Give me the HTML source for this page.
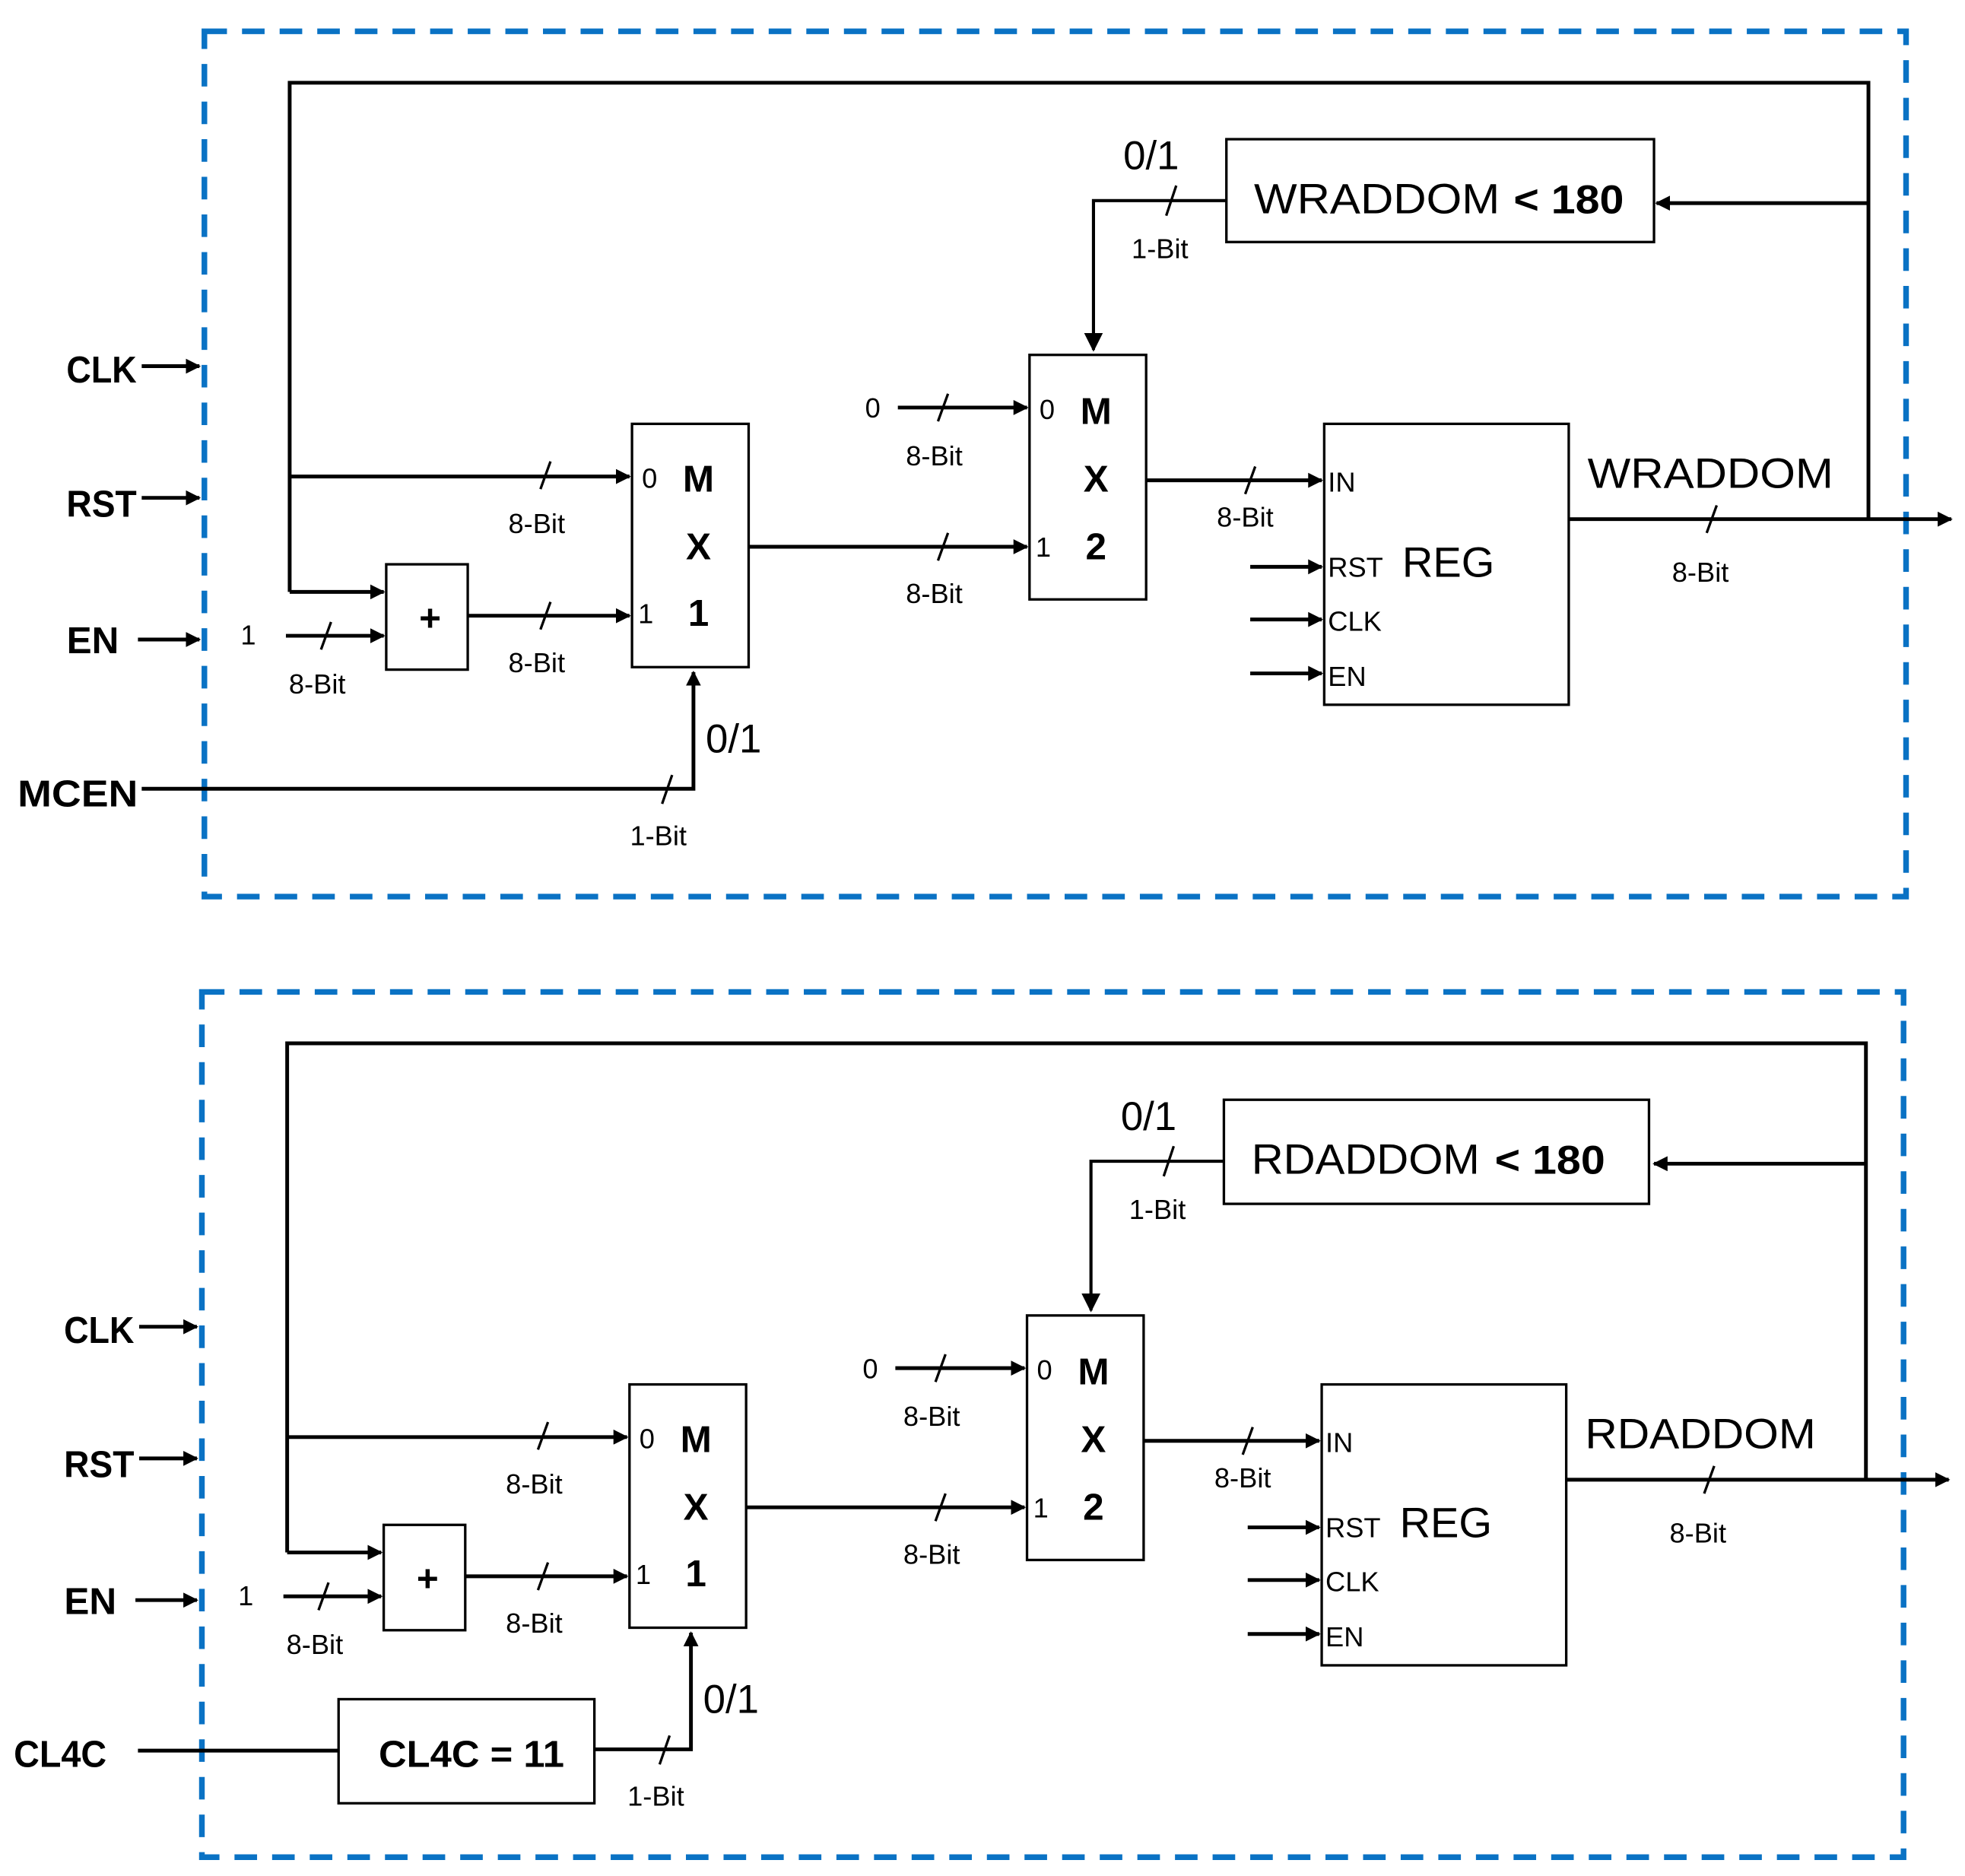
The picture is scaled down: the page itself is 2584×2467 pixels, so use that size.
<!DOCTYPE html>
<html><head><meta charset="utf-8"><style>
html,body{margin:0;padding:0;background:#fff}
svg{display:block}
text{font-family:"Liberation Sans",sans-serif;fill:#000}
.s{font-size:22px}
.b{font-weight:bold}
</style></head><body>
<svg width="2584" height="2467" viewBox="0 0 1567 1496" preserveAspectRatio="none">
<defs>
<marker id="a" viewBox="0 0 10 10" refX="9" refY="5" markerWidth="4" markerHeight="4" orient="auto" markerUnits="strokeWidth"><path d="M0,0L10,5L0,10z" fill="#000"/></marker>
<marker id="a2" viewBox="0 0 10 10" refX="9" refY="5" markerWidth="6" markerHeight="6" orient="auto" markerUnits="strokeWidth"><path d="M0,0L10,5L0,10z" fill="#000"/></marker>
</defs>

<!-- TOP PANEL -->
<g>
<rect x="163" y="25" width="1357" height="690" fill="none" stroke="#0a72c4" stroke-width="4.5" stroke-dasharray="18,12"/>
<g fill="none" stroke="#000" stroke-width="3">
<polyline points="231,472 231,66 1490,66 1490,415"/>
<line x1="231" y1="380" x2="502" y2="380" marker-end="url(#a)"/>
<line x1="231" y1="472" x2="306" y2="472" marker-end="url(#a)"/>
<line x1="228" y1="507" x2="306" y2="507" marker-end="url(#a)"/>
<line x1="373" y1="491" x2="502" y2="491" marker-end="url(#a)"/>
<line x1="597" y1="436" x2="819" y2="436" marker-end="url(#a)"/>
<line x1="716" y1="325" x2="819" y2="325" marker-end="url(#a)"/>
<line x1="914" y1="383" x2="1054" y2="383" marker-end="url(#a)"/>
<line x1="997" y1="452" x2="1054" y2="452" marker-end="url(#a)"/>
<line x1="997" y1="494" x2="1054" y2="494" marker-end="url(#a)"/>
<line x1="997" y1="537" x2="1054" y2="537" marker-end="url(#a)"/>
<line x1="1251" y1="414" x2="1556" y2="414" marker-end="url(#a)"/>
<line x1="1490" y1="162" x2="1321" y2="162" marker-end="url(#a)"/>
<polyline points="978,160 872,160 872,279" stroke-width="2.5" marker-end="url(#a2)"/>
<polyline points="113,629 553,629 553,536" marker-end="url(#a)"/>
<line x1="113" y1="292" x2="159" y2="292" marker-end="url(#a)"/>
<line x1="113" y1="397" x2="159" y2="397" marker-end="url(#a)"/>
<line x1="110" y1="510" x2="159" y2="510" marker-end="url(#a)"/>
</g>
<g stroke="#000" stroke-width="2" fill="#fff">
<rect x="308" y="450" width="65" height="84"/>
<rect x="504" y="338" width="93" height="194"/>
<rect x="821" y="283" width="93" height="195"/>
<rect x="1056" y="338" width="195" height="224"/>
<rect x="978" y="111" width="341" height="82"/>
</g>
<g stroke="#000" stroke-width="2">
<line x1="431" y1="390" x2="439" y2="368"/>
<line x1="256" y1="518" x2="264" y2="496"/>
<line x1="431" y1="502" x2="439" y2="480"/>
<line x1="748" y1="447" x2="756" y2="425"/>
<line x1="748" y1="336" x2="756" y2="314"/>
<line x1="993" y1="394" x2="1001" y2="372"/>
<line x1="1361" y1="425" x2="1369" y2="403"/>
<line x1="930" y1="172" x2="938" y2="148"/>
<line x1="528" y1="641" x2="536" y2="618"/>
</g>
<g class="s" text-anchor="middle">
<text x="428" y="425">8-Bit</text><text x="253" y="553">8-Bit</text><text x="428" y="536">8-Bit</text>
<text x="745" y="481">8-Bit</text><text x="745" y="371">8-Bit</text><text x="993" y="420">8-Bit</text>
<text x="1356" y="464">8-Bit</text><text x="925" y="206">1-Bit</text><text x="525" y="674">1-Bit</text>
<text x="198" y="514">1</text><text x="696" y="333">0</text>
<text x="518" y="389">0</text><text x="515" y="497">1</text><text x="835" y="334">0</text><text x="832" y="444">1</text>
</g>
<g class="s" text-anchor="start">
<text x="1059" y="392">IN</text><text x="1059" y="460">RST</text><text x="1059" y="503">CLK</text><text x="1059" y="547">EN</text>
</g>
<g class="b" text-anchor="middle" font-size="30">
<text x="557" y="392">M</text><text x="557" y="446">X</text><text x="557" y="499">1</text>
<text x="874" y="338">M</text><text x="874" y="392">X</text><text x="874" y="446">2</text>
<text x="343" y="503">+</text>
</g>
<text x="1155" y="460" font-size="34" text-anchor="middle">REG</text>
<text x="1364" y="389" font-size="34" text-anchor="middle" textLength="196" lengthAdjust="spacingAndGlyphs">WRADDOM</text>
<text x="1000" y="170" font-size="34" textLength="196" lengthAdjust="spacingAndGlyphs">WRADDOM</text>
<text x="1207" y="170" font-size="32" class="b" textLength="88" lengthAdjust="spacingAndGlyphs">&lt; 180</text>
<text x="918" y="135" font-size="32" text-anchor="middle">0/1</text>
<text x="585" y="600" font-size="32" text-anchor="middle">0/1</text>
<g class="b" font-size="30" text-anchor="middle">
<text x="81" y="305" textLength="56" lengthAdjust="spacingAndGlyphs">CLK</text>
<text x="81" y="412" textLength="56" lengthAdjust="spacingAndGlyphs">RST</text>
<text x="74" y="521">EN</text>
<text x="62" y="643" textLength="96" lengthAdjust="spacingAndGlyphs">MCEN</text>
</g>
</g>

<!-- BOTTOM PANEL -->
<g transform="translate(-2,766)">
<rect x="163" y="25" width="1357" height="690" fill="none" stroke="#0a72c4" stroke-width="4.5" stroke-dasharray="18,12"/>
<g fill="none" stroke="#000" stroke-width="3">
<polyline points="231,472 231,66 1490,66 1490,415"/>
<line x1="231" y1="380" x2="502" y2="380" marker-end="url(#a)"/>
<line x1="231" y1="472" x2="306" y2="472" marker-end="url(#a)"/>
<line x1="228" y1="507" x2="306" y2="507" marker-end="url(#a)"/>
<line x1="373" y1="491" x2="502" y2="491" marker-end="url(#a)"/>
<line x1="597" y1="436" x2="819" y2="436" marker-end="url(#a)"/>
<line x1="716" y1="325" x2="819" y2="325" marker-end="url(#a)"/>
<line x1="914" y1="383" x2="1054" y2="383" marker-end="url(#a)"/>
<line x1="997" y1="452" x2="1054" y2="452" marker-end="url(#a)"/>
<line x1="997" y1="494" x2="1054" y2="494" marker-end="url(#a)"/>
<line x1="997" y1="537" x2="1054" y2="537" marker-end="url(#a)"/>
<line x1="1251" y1="414" x2="1556" y2="414" marker-end="url(#a)"/>
<line x1="1490" y1="162" x2="1321" y2="162" marker-end="url(#a)"/>
<polyline points="978,160 872,160 872,279" stroke-width="2.5" marker-end="url(#a2)"/>
<line x1="112" y1="630" x2="272" y2="630"/>
<polyline points="476,629 553,629 553,536" marker-end="url(#a)"/>
<line x1="113" y1="292" x2="159" y2="292" marker-end="url(#a)"/>
<line x1="113" y1="397" x2="159" y2="397" marker-end="url(#a)"/>
<line x1="110" y1="510" x2="159" y2="510" marker-end="url(#a)"/>
</g>
<g stroke="#000" stroke-width="2" fill="#fff">
<rect x="308" y="450" width="65" height="84"/>
<rect x="504" y="338" width="93" height="194"/>
<rect x="821" y="283" width="93" height="195"/>
<rect x="1056" y="338" width="195" height="224"/>
<rect x="978" y="111" width="339" height="83"/>
<rect x="272" y="589" width="204" height="83"/>
</g>
<g stroke="#000" stroke-width="2">
<line x1="431" y1="390" x2="439" y2="368"/>
<line x1="256" y1="518" x2="264" y2="496"/>
<line x1="431" y1="502" x2="439" y2="480"/>
<line x1="748" y1="447" x2="756" y2="425"/>
<line x1="748" y1="336" x2="756" y2="314"/>
<line x1="993" y1="394" x2="1001" y2="372"/>
<line x1="1361" y1="425" x2="1369" y2="403"/>
<line x1="930" y1="172" x2="938" y2="148"/>
<line x1="528" y1="641" x2="536" y2="618"/>
</g>
<g class="s" text-anchor="middle">
<text x="428" y="425">8-Bit</text><text x="253" y="553">8-Bit</text><text x="428" y="536">8-Bit</text>
<text x="745" y="481">8-Bit</text><text x="745" y="371">8-Bit</text><text x="993" y="420">8-Bit</text>
<text x="1356" y="464">8-Bit</text><text x="925" y="206">1-Bit</text><text x="525" y="674">1-Bit</text>
<text x="198" y="514">1</text><text x="696" y="333">0</text>
<text x="518" y="389">0</text><text x="515" y="497">1</text><text x="835" y="334">0</text><text x="832" y="444">1</text>
</g>
<g class="s" text-anchor="start">
<text x="1059" y="392">IN</text><text x="1059" y="460">RST</text><text x="1059" y="503">CLK</text><text x="1059" y="547">EN</text>
</g>
<g class="b" text-anchor="middle" font-size="30">
<text x="557" y="392">M</text><text x="557" y="446">X</text><text x="557" y="499">1</text>
<text x="874" y="338">M</text><text x="874" y="392">X</text><text x="874" y="446">2</text>
<text x="343" y="503">+</text>
</g>
<text x="1155" y="460" font-size="34" text-anchor="middle">REG</text>
<text x="1358" y="389" font-size="34" text-anchor="middle" textLength="184" lengthAdjust="spacingAndGlyphs">RDADDOM</text>
<text x="1000" y="170" font-size="34" textLength="182" lengthAdjust="spacingAndGlyphs">RDADDOM</text>
<text x="1194" y="170" font-size="32" class="b" textLength="88" lengthAdjust="spacingAndGlyphs">&lt; 180</text>
<text x="918" y="135" font-size="32" text-anchor="middle">0/1</text>
<text x="585" y="600" font-size="32" text-anchor="middle">0/1</text>
<g class="b" font-size="30" text-anchor="middle">
<text x="81" y="305" textLength="56" lengthAdjust="spacingAndGlyphs">CLK</text>
<text x="81" y="412" textLength="56" lengthAdjust="spacingAndGlyphs">RST</text>
<text x="74" y="521">EN</text>
<text x="50" y="643" textLength="74" lengthAdjust="spacingAndGlyphs">CL4C</text>
<text x="378" y="643" textLength="148" lengthAdjust="spacingAndGlyphs">CL4C = 11</text>
</g>
</g>
</svg>
</body></html>
